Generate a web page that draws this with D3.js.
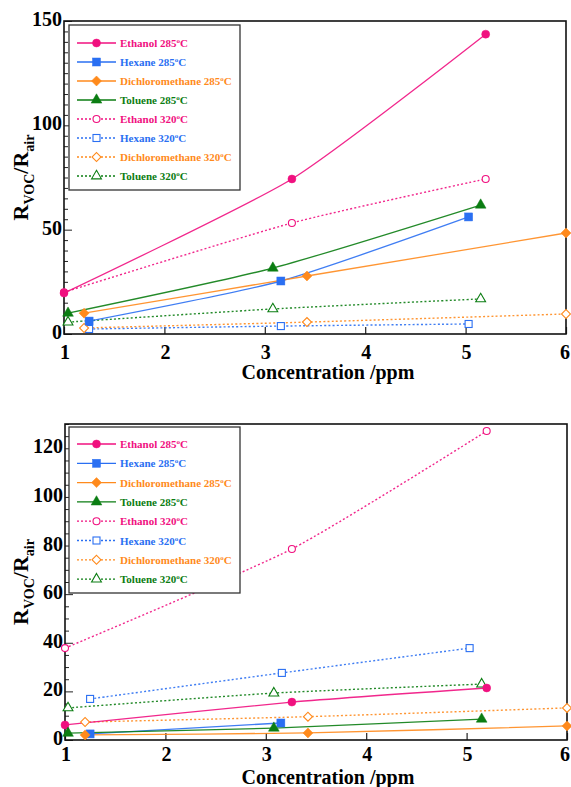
<!DOCTYPE html>
<html>
<head>
<meta charset="utf-8">
<script src="https://cdn.jsdelivr.net/npm/d3@7"></script>
<style>
  body { margin: 0; background: #fff; }
  text { font-family: "Liberation Serif", "Times New Roman", serif; font-weight: bold; }
</style>
</head>
<body>
<script>
// series order: 285 C first, then 320 C
const gases = ["Ethanol", "Hexane", "Dichloromethane", "Toluene"];
const temps = ["285", "320"];

// top panel, concentration (ppm) per series
const topConc = [
  [1, 3.27, 5.2], [1.25, 3.16, 5.03], [1.2, 3.42, 6], [1.04, 3.08, 5.15],
  [1, 3.27, 5.2], [1.25, 3.16, 5.03], [1.2, 3.42, 6], [1.04, 3.08, 5.15]
];
// top panel, response R_VOC/R_air
const topResp = [
  [19.6, 74.3, 143.7], [6.2, 25.4, 56.1], [10.0, 27.8, 48.4], [10.0, 31.6, 61.8],
  [20.0, 53.2, 74.3], [2.4, 3.8, 4.8], [2.9, 5.7, 9.6], [5.7, 12.0, 16.8]
];

// bottom panel
const bottomConc = [
  [1, 3.26, 5.2], [1.25, 3.15], [1.2, 3.42, 6], [1.03, 3.08, 5.15],
  [1, 3.26, 5.2], [1.25, 3.16, 5.03], [1.2, 3.42, 6], [1.03, 3.08, 5.15]
];
const bottomResp = [
  [6.2, 15.6, 21.4], [2.5, 7.0], [2.1, 2.9, 5.8], [2.8, 4.9, 8.6],
  [37.8, 78.6, 127.1], [16.9, 27.6, 37.8], [7.4, 9.6, 13.2], [13.2, 19.3, 23.0]
];

const xTicks = [1, 2, 3, 4, 5, 6];
const topYTicks = [0, 50, 100, 150];
const bottomYTicks = [0, 20, 40, 60, 80, 100, 120];

const colors = ["#f0107f", "#2a6ff2", "#ff8a1c", "#0b7d12"];
const symbols = ["circle", "square", "diamond", "triangle"];

const svg = d3.select("body").append("svg")
  .attr("width", 571)
  .attr("height", 787);

function drawMarker(g, kind, filled, color) {
  var p;
  if (kind === "circle") {
    p = g.append("circle").attr("r", filled ? 4 : 3.5);
  } else if (kind === "square") {
    p = g.append("rect").attr("x", filled ? -4 : -3.5).attr("y", filled ? -4 : -3.5)
      .attr("width", filled ? 8 : 7).attr("height", filled ? 8 : 7);
  } else if (kind === "diamond") {
    p = g.append("path").attr("d", d3.symbol(d3.symbolSquare, filled ? 50 : 40)())
      .attr("transform", "rotate(45)");
  } else {
    p = g.append("path").attr("d", d3.symbol(d3.symbolTriangle, filled ? 50 : 42)());
  }
  p.attr("fill", filled ? color : "#fff")
    .attr("stroke", color)
    .attr("stroke-width", filled ? 0.5 : 1.1);
}

function drawPanel(box, yMax, yTicks, conc, resp, opt) {
  var x = d3.scaleLinear().domain([1, 6]).range([box.left, box.right]);
  var y = d3.scaleLinear().domain([0, yMax]).range([box.bottom, box.top]);
  var g = svg.append("g");

  // minor / major ticks pointing inward
  var yAxis = d3.axisRight(y)
    .tickValues(d3.range(0, yMax + 0.1, 5))
    .tickSize(4)
    .tickFormat("");
  g.append("g").attr("transform", "translate(" + box.left + ",0)").call(yAxis)
    .call(function (a) { a.select(".domain").remove(); })
    .selectAll("line").attr("stroke", "#222").attr("stroke-width", 1)
    .attr("x2", function (d) { return yTicks.indexOf(d) >= 0 ? 8 : 4; });

  var xAxis = d3.axisTop(x).tickValues(xTicks).tickSize(7).tickFormat("");
  g.append("g").attr("transform", "translate(0," + box.bottom + ")").call(xAxis)
    .call(function (a) { a.select(".domain").remove(); })
    .selectAll("line").attr("stroke", "#222").attr("stroke-width", 1.2);

  g.append("rect")
    .attr("x", box.left).attr("y", box.top)
    .attr("width", box.right - box.left).attr("height", box.bottom - box.top)
    .attr("fill", "none").attr("stroke", "#111").attr("stroke-width", 1.6);

  // tick labels
  g.selectAll(".ylab").data(yTicks).enter().append("text")
    .attr("x", box.left - 2).attr("y", function (d) { return y(d) - 2; })
    .attr("dy", "0.35em").attr("text-anchor", "middle")
    .attr("text-anchor", "end")
    .attr("font-size", 20).text(function (d) { return d; });
  g.selectAll(".xlab").data(xTicks).enter().append("text")
    .attr("x", function (d) { return Math.min(x(d) + 1, 565); })
    .attr("y", box.bottom + opt.xLabGap)
    .attr("dy", "0.35em").attr("text-anchor", "middle")
    .attr("font-size", 20).text(function (d) { return d; });

  g.append("text")
    .attr("x", 328).attr("y", box.bottom + opt.titleGap)
    .attr("dy", "0.35em").attr("text-anchor", "middle")
    .attr("font-size", 20).text("Concentration /ppm");

  var yt = g.append("text")
    .attr("transform", "translate(28," + ((box.top + box.bottom) / 2) + ") rotate(-90)")
    .attr("text-anchor", "middle").attr("font-size", 22);
  yt.append("tspan").text("R");
  yt.append("tspan").attr("font-size", 14).attr("dy", 6).text("VOC");
  yt.append("tspan").attr("dy", -6).text("/R");
  yt.append("tspan").attr("font-size", 14).attr("dy", 6).text("air");

  // lines
  var line = d3.line()
    .x(function (d) { return x(d[0]); })
    .y(function (d) { return y(d[1]); })
    .curve(d3.curveCardinal.tension(0.4));

  var order = [4, 5, 6, 7, 0, 1, 2, 3];
  order.forEach(function (i) {
    var pts = d3.zip(conc[i], resp[i]);
    var hot = i >= 4;
    g.append("path").datum(pts).attr("d", line)
      .attr("fill", "none").attr("stroke", colors[i % 4])
      .attr("stroke-width", hot ? 1.4 : 1.3)
      .attr("stroke-dasharray", hot ? "2,2.2" : null)
      .attr("opacity", 0.9);
  });
  order.forEach(function (i) {
    var pts = d3.zip(conc[i], resp[i]);
    pts.forEach(function (p) {
      var m = g.append("g").attr("transform", "translate(" + x(p[0]) + "," + y(p[1]) + ")");
      drawMarker(m, symbols[i % 4], i < 4, colors[i % 4]);
    });
  });

  // legend
  var lg = g.append("g");
  lg.append("rect")
    .attr("x", 69).attr("y", opt.legTop)
    .attr("width", 171).attr("height", opt.legH)
    .attr("fill", "#fff").attr("stroke", "#333").attr("stroke-width", 1.3);
  d3.range(8).forEach(function (i) {
    var ly = opt.legRow0 + i * opt.legStep;
    var c = colors[i % 4];
    var hot = i >= 4;
    lg.append("line").attr("x1", 77).attr("x2", 116).attr("y1", ly).attr("y2", ly)
      .attr("stroke", c).attr("stroke-width", 1.3)
      .attr("stroke-dasharray", hot ? "2,2" : null);
    var m = lg.append("g").attr("transform", "translate(96.5," + ly + ")");
    drawMarker(m, symbols[i % 4], !hot, c);
    var t = lg.append("text").attr("x", 120).attr("y", ly + 4)
      .attr("font-size", 11).attr("fill", c);
    t.append("tspan").text(gases[i % 4] + " " + temps[hot ? 1 : 0]);
    t.append("tspan").attr("font-size", 7).attr("dy", -4).text("o");
    t.append("tspan").attr("dy", 4).text("C");
  });
}

drawPanel({ left: 64, right: 566, top: 21, bottom: 334 }, 150, topYTicks, topConc, topResp,
  { xLabGap: 18, titleGap: 38, legTop: 25, legH: 165, legRow0: 43, legStep: 19 });
drawPanel({ left: 65, right: 567, top: 424, bottom: 740 }, 130, bottomYTicks, bottomConc, bottomResp,
  { xLabGap: 14, titleGap: 37, legTop: 427, legH: 166, legRow0: 444, legStep: 19.3 });
</script>
</body>
</html>
